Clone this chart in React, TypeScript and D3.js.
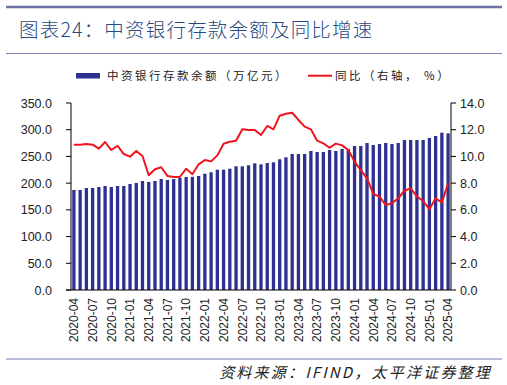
import React from 'react';
import * as d3 from 'd3';

// monthly, 2020-04 .. 2025-04
const months = d3.range(61).map(i => {
  const y = 2020 + Math.floor((3 + i) / 12);
  const m = ((3 + i) % 12) + 1;
  return `${y}-${String(m).padStart(2, '0')}`;
});

const deposits = [
  187.2, 187.2, 190.9, 190.9, 192.8, 194.7, 192.8, 194.7, 194.7, 198.4,
  200.3, 204.0, 202.2, 204.0, 207.8, 205.9, 207.8, 209.6, 211.5, 211.8,
  213.4, 217.7, 220.3, 225.2, 225.2, 227.0, 231.5, 231.5, 233.4, 237.1,
  235.2, 237.7, 239.0, 244.6, 248.4, 254.6, 254.6, 254.6, 260.2, 258.3,
  258.3, 262.0, 260.2, 263.9, 263.9, 269.5, 269.5, 275.1, 271.4, 273.2,
  275.1, 273.2, 275.1, 280.7, 280.7, 280.7, 280.7, 284.5, 288.2, 294.4,
  293.2,
];

const yoy = [
  10.88, 10.88, 10.93, 10.88, 10.58, 11.08, 10.48, 10.8, 10.18, 9.98,
  10.41, 10.03, 8.59, 9.04, 9.19, 8.54, 8.46, 8.46, 9.08, 8.67,
  9.41, 9.73, 9.63, 10.08, 10.95, 11.1, 11.18, 12.03, 11.98, 11.98,
  11.6, 12.28, 12.03, 13.05, 13.2, 13.27, 12.73, 12.23, 12.03, 11.18,
  10.98, 10.65, 10.96, 10.83, 10.48, 9.61, 8.98, 8.36, 7.19, 6.99,
  6.36, 6.49, 6.87, 7.43, 7.61, 6.99, 6.66, 6.04, 6.87, 6.54,
  7.99,
];

const leftTicks = [0, 50, 100, 150, 200, 250, 300, 350];
const rightTicks = [0, 2, 4, 6, 8, 10, 12, 14];

const W = 507;
const H = 385;
const plot = { left: 71, right: 451, top: 103, bottom: 290 };

const BAR = '#2E3192';
const RED = '#F0141E';
const font = 'Arial, "Liberation Sans", "Noto Sans CJK SC", sans-serif';
const cjk = '"Noto Sans CJK SC", sans-serif';

const App = () => {
  const x = d3.scaleBand<string>()
    .domain(months)
    .range([plot.left, plot.right])
    .paddingInner(0.47)
    .paddingOuter(0.2);

  const yL = d3.scaleLinear().domain([0, 350]).range([plot.bottom, plot.top]);
  const yR = d3.scaleLinear().domain([0, 14]).range([plot.bottom, plot.top]);

  const line = d3.line<number>()
    .x((_, i) => (x(months[i]) as number) + x.bandwidth() / 2)
    .y(d => yR(d));

  const labelMonths = months.filter((_, i) => i % 3 === 0);

  return (
    <svg width={W} height={H} style={{ position: 'absolute', left: 0, top: 0, background: '#fff' }}>
      {/* header */}
      <line x1={6} x2={502} y1={7} y2={7} stroke="#6E72A8" strokeWidth={2.5} />
      <text x={19} y={37} fontFamily={cjk} fontSize={19.5} fontWeight={300} fill="#264A80" letterSpacing={1.2}>
        图表24：中资银行存款余额及同比增速
      </text>
      <line x1={6} x2={502} y1={53.5} y2={53.5} stroke="#7D82B6" strokeWidth={1} />

      {/* legend */}
      <rect x={76} y={73} width={24} height={5.5} fill={BAR} />
      <text x={107} y={80} fontFamily={cjk} fontSize={11.5} fill="#222" letterSpacing={2.5}>
        中资银行存款余额（万亿元）
      </text>
      <line x1={308} x2={332} y1={75.7} y2={75.7} stroke={RED} strokeWidth={2} />
      <text x={335} y={80} fontFamily={cjk} fontSize={11.5} fill="#222" letterSpacing={2.5}>
        同比（右轴， %）
      </text>

      {/* bars */}
      {deposits.map((v, i) => (
        <rect
          key={months[i]}
          x={x(months[i])}
          y={yL(v)}
          width={x.bandwidth()}
          height={plot.bottom - yL(v)}
          fill={BAR}
        />
      ))}

      {/* yoy line */}
      <path d={line(yoy) ?? ''} fill="none" stroke={RED} strokeWidth={2} strokeLinejoin="round" />

      {/* left axis */}
      <line x1={plot.left} x2={plot.left} y1={plot.top} y2={plot.bottom} stroke="#000" />
      {leftTicks.map(t => (
        <g key={t}>
          <line x1={plot.left - 5} x2={plot.left} y1={yL(t)} y2={yL(t)} stroke="#000" />
          <text x={52} y={yL(t)} dy="0.36em" textAnchor="end" fontFamily={font} fontSize={12.5} fill="#222">
            {t.toFixed(1)}
          </text>
        </g>
      ))}

      {/* right axis */}
      <line x1={plot.right} x2={plot.right} y1={plot.top} y2={plot.bottom} stroke="#000" />
      {rightTicks.map(t => (
        <g key={t}>
          <line x1={plot.right} x2={plot.right + 5} y1={yR(t)} y2={yR(t)} stroke="#000" />
          <text x={460} y={yR(t)} dy="0.36em" fontFamily={font} fontSize={12.5} fill="#222">
            {t.toFixed(1)}
          </text>
        </g>
      ))}

      {/* x axis */}
      <line x1={plot.left - 5} x2={plot.right} y1={plot.bottom} y2={plot.bottom} stroke="#000" strokeWidth={1.2} />
      {labelMonths.map(m => {
        const cx = (x(m) as number) + x.bandwidth() / 2;
        return (
          <text
            key={m}
            transform={`translate(${cx},298) rotate(-90)`}
            dy="0.36em"
            textAnchor="end"
            fontFamily={font}
            fontSize={12}
            fill="#222"
          >
            {m}
          </text>
        );
      })}

      {/* footer */}
      <line x1={6} x2={502} y1={359} y2={359} stroke="#A2A6CE" strokeWidth={1.5} />
      <text
        x={492}
        y={378}
        textAnchor="end"
        fontFamily={cjk}
        fontSize={15}
        fontStyle="italic"
        fill="#222"
        letterSpacing={2.2}
      >
        资料来源：IFIND，太平洋证券整理
      </text>
    </svg>
  );
};

export default App;
